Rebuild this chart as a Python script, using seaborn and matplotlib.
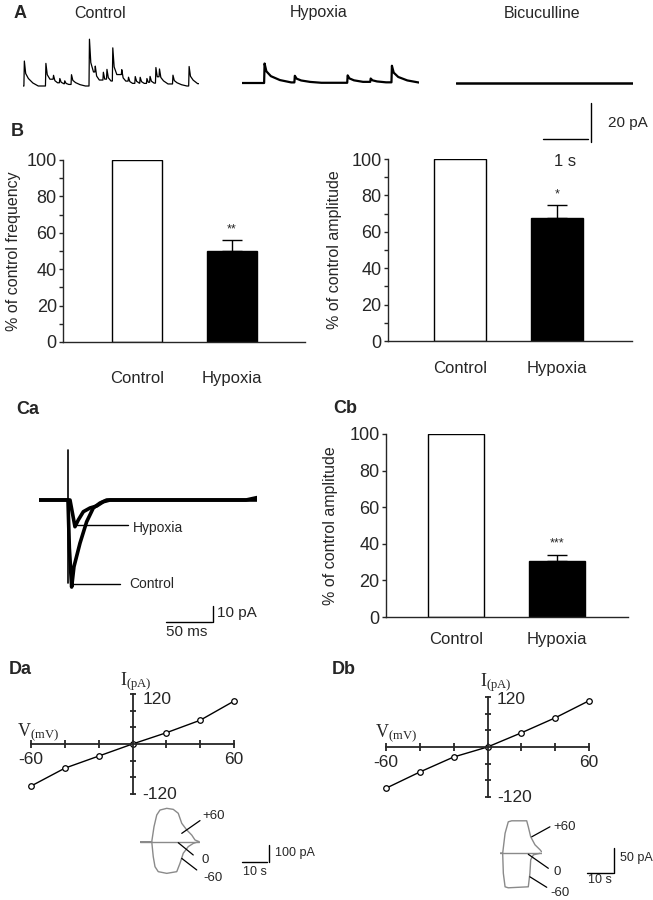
import matplotlib
matplotlib.use("Agg")
import matplotlib.pyplot as plt
from matplotlib.ticker import MultipleLocator
import seaborn as sns
import pandas as pd

W, H = 653, 900

# ---------------- data ----------------
# A: spontaneous IPSCs, event onset (s) and amplitude (pA)
ctrl_event_t = [0.02, 0.50, 0.67, 0.81, 0.92, 1.07, 1.47, 1.60, 1.78, 1.86, 1.99,
                2.19, 2.34, 2.49, 2.60, 2.75, 2.82, 2.95, 3.03, 3.33, 3.69]
ctrl_event_amp = [12.8, 11.6, 2.0, 2.2, 1.5, 5.0, 24.0, 3.0, 4.0, 5.0, 17.0,
                  2.5, 2.0, 3.5, 3.0, 2.5, 3.0, 8.0, 4.0, 4.5, 10.0]
hyp_event_t = [0.49, 1.16, 2.33, 2.84, 3.31]
hyp_event_amp = [10.0, 3.4, 3.8, 1.7, 8.5]
bic_event_t = []
bic_event_amp = []
trace_len = 3.92

# shape of a single event (offset s, fraction of peak)
ctrl_kernel_t = [0.0, 0.01, 0.04, 0.10, 0.20, 0.32]
ctrl_kernel_f = [0.0, 1.0, 0.5, 0.3, 0.12, 0.0]
hyp_kernel_t = [0.0, 0.01, 0.05, 0.15, 0.35, 0.60]
hyp_kernel_f = [0.0, 1.0, 0.6, 0.35, 0.15, 0.03]

# B / Cb: % of control
groups = ["Control", "Hypoxia"]
freq_mean = [100, 50]
freq_sem = [0, 6]
freq_stars = ["", "**"]
amp_mean = [100, 67.5]
amp_sem = [0, 7]
amp_stars = ["", "*"]
evoked_mean = [100, 30.5]
evoked_sem = [0, 3.5]
evoked_stars = ["", "***"]

# Ca: evoked IPSCs (ms, pA)
ctrl_evoked_t = [0, 31.5, 33.0, 35.5, 38.0, 44.6, 51.8, 59.0, 66.3, 73.6, 225, 237]
ctrl_evoked_i = [0, 0, -30, -54.4, -41.7, -26.9, -13.6, -5.0, -1.9, 0, 0, 1.5]
hyp_evoked_t = [0, 33.7, 39.1, 42.7, 48.2, 55.4, 62.7, 69.9, 77.2, 237]
hyp_evoked_i = [0, 0, -16.7, -12.5, -7.3, -5.0, -3.75, -1.1, 0, 0]
artifact_t = [31.5, 31.5]
artifact_i = [31, -52]

# D: I-V relations
iv_v = [-60, -40, -20, 0, 20, 40, 60]
da_i = [-101, -58, -29, 0, 27, 57, 103]
db_i = [-99, -60, -24, 0, 34, 70, 111]

# D insets: current responses (s, pA) at +60, 0, -60 mV
da_pos_t = [0, 4.7, 5.6, 6.7, 8.0, 10.7, 13.3, 15.3, 16.7, 18.7, 20.7, 22.0, 23.7]
da_pos_i = [0, 0, 88, 157, 186, 196, 190, 167, 108, 69, 39, 10, 0]
da_neg_t = [0, 4.7, 5.3, 6.0, 7.3, 10.7, 14.7, 16.0, 17.3, 19.3, 21.3, 23.3]
da_neg_i = [0, 0, -88, -147, -176, -186, -176, -127, -68, -29, -10, 0]
da_zero_t = [0, 23.7]
da_zero_i = [0, 0]
db_pos_t = [0, 1.0, 1.9, 3.1, 4.4, 10.0, 10.6, 11.5, 13.1, 15.0, 15.6]
db_pos_i = [0, 0, 40, 63, 65, 65, 53, 33, 17, 7, 3]
db_neg_t = [0, 1.0, 1.25, 1.9, 3.1, 10.6, 11.2, 11.5, 12.5, 15.0]
db_neg_i = [0, 0, -40, -67, -69, -67, -40, -13, -3, 0]
db_zero_t = [0, 15.6]
db_zero_i = [0, 0]

# ---------------- style ----------------
sns.set_style("ticks")
plt.rcParams["font.family"] = ["Liberation Sans", "DejaVu Sans"]
plt.rcParams["mathtext.fontset"] = "custom"
plt.rcParams["mathtext.rm"] = "Liberation Serif"
plt.rcParams["axes.linewidth"] = 1.0
plt.rcParams["axes.facecolor"] = "none"

fig = plt.figure(figsize=(W / 100, H / 100), dpi=100)


def rect(x0, y0, x1, y1):
    return [x0 / W, 1 - y1 / H, (x1 - x0) / W, (y1 - y0) / H]


def fig_text(x, y, s, **kw):
    fig.text(x / W, 1 - y / H, s, ha=kw.pop("ha", "center"), va=kw.pop("va", "center"), **kw)


def build_trace(ev_t, ev_a, k_t, k_f, t_end):
    ts, ys = [0.0], [0.0]
    bounds = list(ev_t[1:]) + [t_end]
    for t0, a, t_next in zip(ev_t, ev_a, bounds):
        ts.append(t0)
        ys.append(ys[-1])
        peak = ys[-1] + a
        for dt, f in zip(k_t[1:], k_f[1:]):
            if t0 + dt >= t_next:
                break
            ts.append(t0 + dt)
            ys.append(peak * f)
    ts.append(t_end)
    ys.append(ys[-1])
    return ts, ys


# ---------------- A ----------------
fig_text(20, 13, "A", fontsize=13, fontweight="bold")
traces = [
    ("Control", (23, 199), 86, 100, ctrl_event_t, ctrl_event_amp, ctrl_kernel_t, ctrl_kernel_f, 0.9),
    ("Hypoxia", (242, 419), 83, 319, hyp_event_t, hyp_event_amp, hyp_kernel_t, hyp_kernel_f, 1.6),
    ("Bicuculline", (456, 633), 83, 542, bic_event_t, bic_event_amp, hyp_kernel_t, hyp_kernel_f, 1.8),
]
for name, (x0, x1), base, tx, ev_t, ev_a, k_t, k_f, lw in traces:
    ax = fig.add_axes(rect(x0, base - 27 * 1.95, x1, base + 3 * 1.95))
    t, y = build_trace(ev_t, ev_a, k_t, k_f, trace_len)
    sns.lineplot(x=t, y=y, color="black", lw=lw, ax=ax, sort=False)
    ax.set_xlim(0, trace_len)
    ax.set_ylim(-3, 27)
    ax.axis("off")
    fig_text(tx, 13, name, fontsize=11.5)
    if name == "Bicuculline":
        # scale bars 1 s / 20 pA
        ax.plot([1.93, 2.93], [-28.7, -28.7], color="black", lw=1, clip_on=False)
        ax.plot([3.0, 3.0], [-10.3, -30.3], color="black", lw=1, clip_on=False)
        ax.text(3.36, -20.5, "20 pA", fontsize=11, ha="left", va="center", zorder=10)
        ax.text(2.42, -40.5, "1 s", fontsize=12, ha="center", va="center", zorder=10)


# ---------------- bar panels ----------------
def bar_panel(px, means, sems, stars, ylabel, xlim, width, xpad, ylabelpad, minor):
    ax = fig.add_axes(rect(*px))
    df = pd.DataFrame({"group": groups, "value": means})
    sns.barplot(data=df, x="group", y="value", hue="group", palette=["white", "black"],
                edgecolor="black", linewidth=1, width=width, legend=False, ax=ax)
    ax.errorbar([1], [means[1]], yerr=[[0], [sems[1]]], fmt="none", ecolor="black",
                elinewidth=1, capsize=7.5, capthick=1)
    ax.text(1, means[1] + sems[1] + 6, stars[1], ha="center", va="center", fontsize=9)
    ax.set_xlim(*xlim)
    ax.set_ylim(0, 100)
    ax.set_yticks(range(0, 101, 20))
    if minor:
        ax.yaxis.set_minor_locator(MultipleLocator(10))
    ax.tick_params(axis="y", direction="out", length=3, width=1, pad=1.5, labelsize=13)
    ax.tick_params(axis="y", which="minor", direction="out", length=3, width=1)
    ax.tick_params(axis="x", length=0, pad=xpad, labelsize=12)
    ax.set_xlabel("")
    ax.set_ylabel(ylabel, fontsize=11.5, labelpad=ylabelpad)
    sns.despine(ax=ax)
    return ax


fig_text(17, 131, "B", fontsize=13, fontweight="bold")
bar_panel((63, 160, 305, 342), freq_mean, freq_sem, freq_stars, "% of control frequency",
          (-0.779, 1.768), 0.53, 21, 4, True)
bar_panel((388, 159, 632, 341), amp_mean, amp_sem, amp_stars, "% of control amplitude",
          (-0.742, 1.773), 0.536, 14.5, 7, True)
fig_text(345, 408, "Cb", fontsize=13, fontweight="bold")
bar_panel((386, 434, 628, 617), evoked_mean, evoked_sem, evoked_stars, "% of control amplitude",
          (-0.693, 1.703), 0.56, 11, 8, False)

# ---------------- Ca ----------------
fig_text(28, 410, "Ca", fontsize=13, fontweight="bold")
ax = fig.add_axes(rect(39, 444, 257, 596))
sns.lineplot(x=ctrl_evoked_t, y=ctrl_evoked_i, color="black", lw=2.6, ax=ax, sort=False)
sns.lineplot(x=hyp_evoked_t, y=hyp_evoked_i, color="black", lw=2.6, ax=ax, sort=False)
ax.plot(artifact_t, artifact_i, color="black", lw=1.2)
ax.set_xlim(0, 237)
ax.set_ylim(-60, 35)
ax.axis("off")
ax.plot([41.3, 96.7], [-15.6, -15.6], color="black", lw=1, clip_on=False)
ax.text(102, -17.5, "Hypoxia", fontsize=10, ha="left", va="center")
ax.plot([35.9, 88], [-52.5, -52.5], color="black", lw=1, clip_on=False)
ax.text(97.8, -52.5, "Control", fontsize=10, ha="left", va="center")
ax.plot([189, 189], [-66.25, -76.25], color="black", lw=1, clip_on=False)
ax.plot([138, 188], [-76.25, -76.25], color="black", lw=1, clip_on=False)
ax.text(193.5, -70.6, "10 pA", fontsize=11, ha="left", va="center")
ax.text(161, -82.5, "50 ms", fontsize=11, ha="center", va="center")


# ---------------- D ----------------
def iv_panel(px, cur, lab, lab_xy, txt):
    ax = fig.add_axes(rect(*px))
    sns.lineplot(x=iv_v, y=cur, color="black", lw=1, marker="o", markersize=4,
                 markerfacecolor="white", markeredgecolor="black", markeredgewidth=0.9,
                 ax=ax, clip_on=False)
    ax.set_xlim(-60, 60)
    ax.set_ylim(-120, 120)
    for side in ["top", "right"]:
        ax.spines[side].set_visible(False)
    ax.spines["left"].set_position(("data", 0))
    ax.spines["bottom"].set_position(("data", 0))
    ax.spines["left"].set_linewidth(1.3)
    ax.spines["bottom"].set_linewidth(1.3)
    ax.set_xticks(range(-60, 61, 20))
    ax.set_yticks(range(-120, 121, 40))
    ax.tick_params(axis="x", direction="inout", length=6, width=1.3, labelbottom=False)
    ax.tick_params(axis="y", direction="inout", length=4, width=1.3, labelleft=False)
    ax.set_xlabel("")
    ax.set_ylabel("")
    fig_text(lab_xy[0], lab_xy[1], lab, fontsize=13, fontweight="bold")
    (ix, iy), (vx, vy), (tx, t_hi, t_lo), xl_y = txt
    ax.text(ix, iy, r"$\mathrm{I_{(pA)}}$", fontsize=13, ha="center", va="center")
    ax.text(vx, vy, r"$\mathrm{V_{(mV)}}$", fontsize=13, ha="left", va="center")
    ax.text(tx, t_hi, "120", fontsize=12.5, ha="left", va="center")
    ax.text(tx, t_lo, "-120", fontsize=12.5, ha="left", va="center")
    ax.text(-60, xl_y, "-60", fontsize=12.5, ha="center", va="center")
    ax.text(60, xl_y, "60", fontsize=12.5, ha="center", va="center")
    return ax


iv_panel((31, 694, 234, 794), da_i, "Da", (20, 670),
         ((2, 149), (-68, 29), (6, 108, -122), -38))
iv_panel((386, 697, 589, 797), db_i, "Db", (344, 670),
         ((5, 153), (-66.6, 33.6), (5.6, 113, -122), -38))


def inset(px, xlim, ylim, series, pointers, labels, bars, bar_txt):
    ax = fig.add_axes(rect(*px))
    for t, i in series:
        sns.lineplot(x=t, y=i, color="#8a8a8a", lw=1, ax=ax, sort=False)
    ax.set_xlim(*xlim)
    ax.set_ylim(*ylim)
    ax.axis("off")
    for (x0, y0, x1, y1) in pointers:
        ax.plot([x0, x1], [y0, y1], color="black", lw=0.9, clip_on=False)
    for (x, y, s) in labels:
        ax.text(x, y, s, fontsize=9.5, ha="left", va="center")
    for (x0, y0, x1, y1) in bars:
        ax.plot([x0, x1], [y0, y1], color="black", lw=1, clip_on=False)
    for (x, y, s, ha) in bar_txt:
        ax.text(x, y, s, fontsize=9, ha=ha, va="center")


inset((140, 800, 200, 880), (0, 24), (-225, 245),
      [(da_pos_t, da_pos_i), (da_zero_t, da_zero_i), (da_neg_t, da_neg_i)],
      [(16.7, 49, 24, 124), (15.3, -6, 21.3, -78), (16.7, -98, 22.7, -166)],
      [(24.8, 151, "+60"), (24.8, -107, "0"), (25.2, -213, "-60")],
      [(51.6, -19, 51.6, -119), (40.8, -119, 50.8, -119)],
      [(54, -66, "100 pA", "left"), (46, -178, "10 s", "center")])
inset((500, 810, 542, 895), (0, 15.73), (-83.4, 86.6),
      [(db_pos_t, db_pos_i), (db_zero_t, db_zero_i), (db_neg_t, db_neg_i)],
      [(11.9, 33, 18.7, 53), (10.6, -2, 18.1, -30), (11.2, -47, 17.5, -68)],
      [(19.85, 52.6, "+60"), (19.85, -37, "0"), (18.7, -80, "-60")],
      [(42.7, 10.6, 42.7, -39.4), (32.6, -39.4, 42.3, -39.4)],
      [(44.8, -10, "50 pA", "left"), (37.5, -53.4, "10 s", "center")])

fig.savefig("out.png", dpi=100)
